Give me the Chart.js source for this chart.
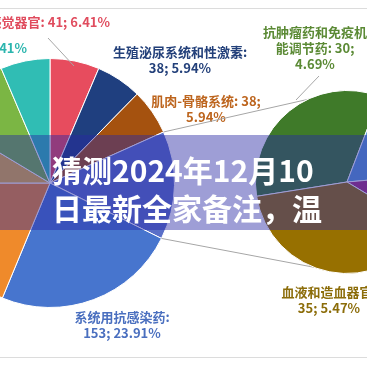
<!DOCTYPE html>
<html>
<head>
<meta charset="utf-8">
<script src="https://cdn.jsdelivr.net/npm/chart.js@4.4.1/dist/chart.umd.min.js"></script>
<style>
html, body { margin: 0; padding: 0; width: 367px; height: 367px; overflow: hidden; background: #fff; }
#wrap { position: relative; width: 367px; height: 367px; overflow: hidden; }
canvas { position: absolute; top: 0; }
#mainPie { left: -75px; }
#subPie { left: 0; }
.rule { position: absolute; left: 0; width: 367px; height: 1px; background: #dcdcdc; }
#band { position: absolute; left: 0; top: 135px; width: 367px; height: 95px; background: rgba(40, 40, 165, 0.45); }
#title { position: absolute; left: 52px; top: 150px; color: #fff; font: bold 30px "Noto Sans CJK SC"; line-height: 38px; white-space: nowrap; }
</style>
</head>
<body>
<div id="wrap">
  <div class="rule" style="top:8px"></div>
  <div class="rule" style="top:357px"></div>
  <canvas id="mainPie" width="442" height="367"></canvas>
  <canvas id="subPie" width="440" height="367"></canvas>
  <div id="band"></div>
  <div id="title">猜测2024年12月10<br>日最新全家备注，温</div>
</div>
<script>
/* Data */
const TOTAL = 640;

// main pie, clockwise from 12 o'clock
const mainLabels = ['感觉器官', '生殖泌尿系统和性激素', '肌肉-骨骼系统', '其他', '系统用抗感染药',
    '消化道及代谢', '心血管系统', '神经系统', '皮肤病用药'];
const mainValues = [41, 38, 38, 90, 153, 120, 55, 64, 41];
const mainColors = ['#E74C5E', '#1F3F7F', '#A5520F', '#5A6FC8', '#4775CE',
    '#EF8A2B', '#E8B43C', '#7BB644', '#30BDB4'];

// secondary pie (the "其他" slice split up)
const subLabels = ['抗肿瘤药和免疫机能调节药', '呼吸系统', '抗寄生虫药', '血液和造血器官'];
const subValues = [30, 16, 9, 35];
const subColors = ['#3F7A29', '#5B9BD5', '#A8327E', '#977000'];

const OTHER_INDEX = 3;

/* Label plugin */
const sliceLabels = {
    id: 'sliceLabels',
    afterDraw(chart, args, opts) {
        const ctx = chart.ctx;
        const values = chart.data.datasets[0].data;
        ctx.save();
        ctx.font = 'bold 13px "Noto Sans CJK SC"';
        ctx.textBaseline = 'middle';
        (opts.items || []).forEach(item => {
            if (item.leader) {
                ctx.strokeStyle = '#a6a6a6';
                ctx.lineWidth = 1;
                ctx.beginPath();
                ctx.moveTo(item.leader[0][0] + opts.shiftX, item.leader[0][1]);
                ctx.lineTo(item.leader[1][0] + opts.shiftX, item.leader[1][1]);
                ctx.stroke();
            }
            const v = values[item.index];
            const pct = (v / TOTAL * 100).toFixed(2) + '%';
            const lines = item.lines(chart.data.labels[item.index], v, pct);
            ctx.fillStyle = item.color;
            ctx.textAlign = item.align || 'center';
            lines.forEach((t, k) => ctx.fillText(t, item.x + opts.shiftX, item.y + k * 16));
        });
        ctx.restore();
    }
};

/* Series lines between the two pies */
const seriesLines = {
    id: 'seriesLines',
    beforeDatasetsDraw(chart) {
        if (!mainChart) return;
        const dx = mainChart.canvas.getBoundingClientRect().left - chart.canvas.getBoundingClientRect().left;
        const other = mainChart.getDatasetMeta(0).data[OTHER_INDEX];
        const sub = chart.getDatasetMeta(0).data[0];
        const r1 = other.outerRadius, r2 = sub.outerRadius;
        const a = [other.startAngle, other.endAngle];
        const ctx = chart.ctx;
        ctx.save();
        ctx.strokeStyle = '#a6a6a6';
        ctx.lineWidth = 1;
        ctx.beginPath();
        ctx.moveTo(other.x + dx + r1 * Math.cos(a[0]), other.y + r1 * Math.sin(a[0]));
        ctx.lineTo(sub.x, sub.y - r2);
        ctx.moveTo(other.x + dx + r1 * Math.cos(a[1]), other.y + r1 * Math.sin(a[1]));
        ctx.lineTo(sub.x, sub.y + r2);
        ctx.stroke();
        ctx.restore();
    }
};

function pieConfig(labels, values, colors, rotation, padding, items, shiftX, extraPlugins) {
    return {
        type: 'pie',
        data: {
            labels: labels,
            datasets: [{
                data: values,
                backgroundColor: colors,
                borderColor: '#ffffff',
                borderWidth: 1,
                hoverOffset: 0
            }]
        },
        options: {
            responsive: false,
            animation: false,
            rotation: rotation,
            layout: { padding: padding },
            plugins: {
                legend: { display: false },
                tooltip: { enabled: false },
                sliceLabels: { items: items, shiftX: shiftX }
            }
        },
        plugins: [sliceLabels].concat(extraPlugins || [])
    };
}

const mainItems = [
    { index: 0, x: 110, y: 22, align: 'right', color: '#E04C5E', leader: [[48, 38], [74, 66]],
      lines: (n, v, p) => [n + ': ' + v + '; ' + p] },
    { index: 8, x: 27, y: 48, align: 'right', color: '#2BB5AE',
      lines: (n, v, p) => [n + ': ' + v + '; ' + p] },
    { index: 1, x: 180, y: 52, color: '#23407A',
      lines: (n, v, p) => [n + ':', v + '; ' + p] },
    { index: 2, x: 206, y: 101, color: '#BD651E',
      lines: (n, v, p) => [n + ': ' + v + ';', p] },
    { index: 4, x: 122, y: 317, color: '#4A6FBF',
      lines: (n, v, p) => [n + ':', v + '; ' + p] }
];

const subItems = [
    { index: 0, x: 315, y: 32, color: '#5B8A35', leader: [[319, 76], [296, 100]],
      lines: (n, v, p) => ['抗肿瘤药和免疫机', '能调节药: ' + v + ';', p] },
    { index: 3, x: 329, y: 292, color: '#8C6D0A',
      lines: (n, v, p) => [n + ':', v + '; ' + p] }
];

let mainChart = null;
let subChart = null;

mainChart = new Chart(
    document.getElementById('mainPie'),
    pieConfig(mainLabels, mainValues, mainColors, 0,
        { left: 0, right: 192, top: 58, bottom: 59 }, mainItems, 75)
);

subChart = new Chart(
    document.getElementById('subPie'),
    pieConfig(subLabels, subValues, subColors, 261,
        { left: 255, right: 1, top: 90, bottom: 93 }, subItems, 0, [seriesLines])
);
</script>
</body>
</html>
